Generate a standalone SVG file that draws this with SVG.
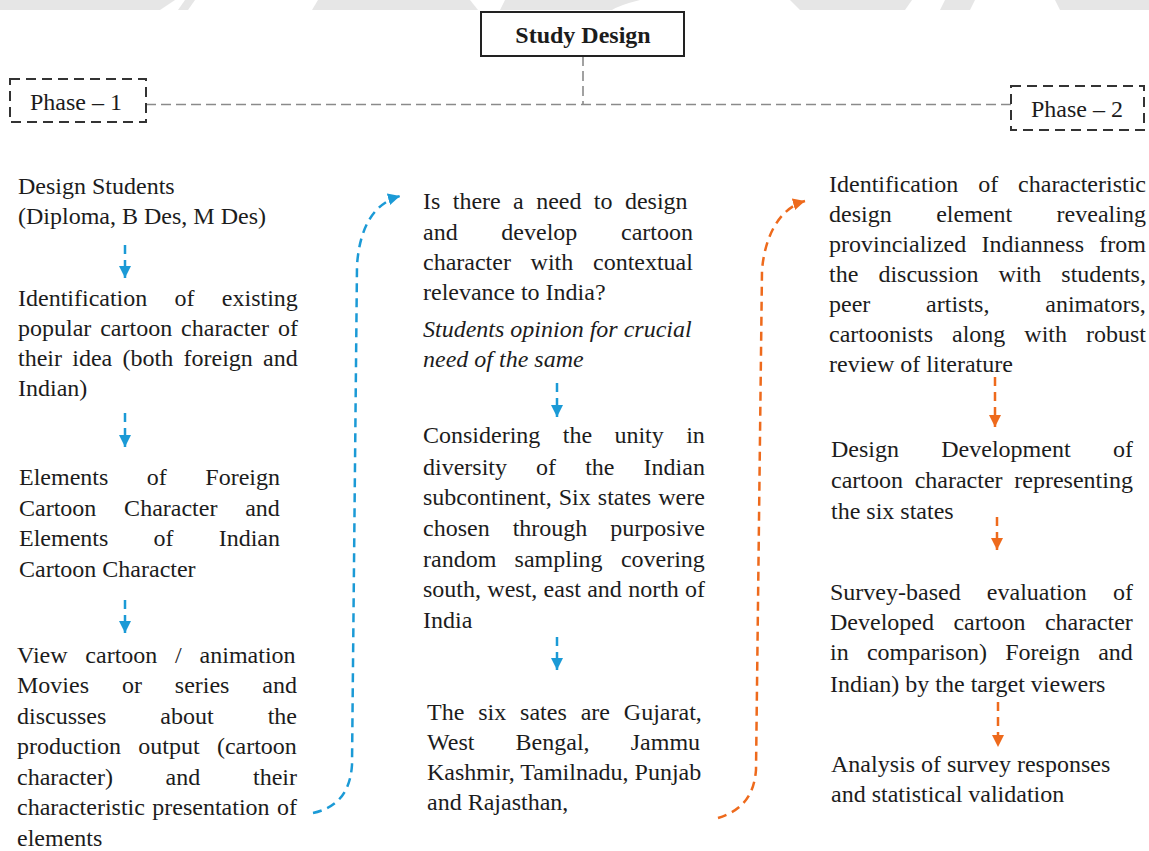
<svg xmlns="http://www.w3.org/2000/svg" width="1149" height="851" viewBox="0 0 1149 851">
<style>
.t{font-family:"Liberation Serif","Times New Roman",serif;font-size:24px;fill:#1c1c1c}
.it{font-style:italic}
.b{font-weight:bold}
.gl{stroke:#8a8a8a;stroke-width:1.6;stroke-dasharray:10 5;fill:none}
.pb{fill:#fff;stroke:#333;stroke-width:2;stroke-dasharray:10 6}
.bl{stroke:#1b9ad6;stroke-width:2.5;stroke-dasharray:9 6;fill:none}
.or{stroke:#ee6a1c;stroke-width:2.5;stroke-dasharray:9 6;fill:none}
.wm{fill:#e6e6e6}
</style>
<defs>
<marker id="ab" markerUnits="userSpaceOnUse" markerWidth="12" markerHeight="12" viewBox="0 0 10 10" refX="10" refY="5" orient="auto"><path d="M0,0 L10,5 L0,10 Z" fill="#1b9ad6"/></marker>
<marker id="ao" markerUnits="userSpaceOnUse" markerWidth="12" markerHeight="12" viewBox="0 0 10 10" refX="10" refY="5" orient="auto"><path d="M0,0 L10,5 L0,10 Z" fill="#ee6a1c"/></marker>
</defs>
<rect width="1149" height="851" fill="#fff"/>
<g id="watermark">
<path class="wm" d="M0,0 H175 L160,10 H0 Z"/>
<path class="wm" d="M185,0 H195 L188,10 H178 Z"/>
<path class="wm" d="M318,0 H470 L478,10 H312 Z"/>
<path class="wm" d="M505,0 H640 Q620,5 612,10 H500 Z"/>
<path class="wm" d="M790,0 H912 L905,10 H800 Z"/>
<path class="wm" d="M945,0 H975 L970,10 H940 Z"/>
<path class="wm" d="M1055,0 H1149 V10 H1060 Z"/>
</g>
<g id="connectors">
<path class="gl" d="M583,56 V104.5"/>
<path class="gl" d="M146,104.5 H1011"/>
<line class="bl" x1="125" y1="245" x2="125" y2="278" marker-end="url(#ab)"/>
<line class="bl" x1="125" y1="413" x2="125" y2="447" marker-end="url(#ab)"/>
<line class="bl" x1="125" y1="600" x2="125" y2="633" marker-end="url(#ab)"/>
<line class="bl" x1="557" y1="383" x2="557" y2="417" marker-end="url(#ab)"/>
<line class="bl" x1="557" y1="637" x2="557" y2="670" marker-end="url(#ab)"/>
<line class="or" x1="995" y1="377" x2="995" y2="427" marker-end="url(#ao)"/>
<line class="or" x1="997" y1="517" x2="997" y2="550" marker-end="url(#ao)"/>
<line class="or" x1="998" y1="702" x2="998" y2="747" marker-end="url(#ao)"/>
<path class="bl" d="M313,813 C335,808 350,795 352,765 L357,265 C360,225 375,203 400,196" marker-end="url(#ab)"/>
<path class="or" d="M718,818 C743,810 754,795 756,770 L762,270 C765,235 780,208 805,201" marker-end="url(#ao)"/>
</g>
<g id="study-design">
<rect x="481" y="12" width="203" height="44" fill="#fff" stroke="#222" stroke-width="2"/>
<text class="t b" x="583" y="43" text-anchor="middle" font-size="23">Study Design</text>
</g>
<g id="phase-1">
<rect class="pb" x="10" y="79" width="136" height="43"/>
<text class="t" x="30" y="110">Phase – 1</text>
</g>
<g id="phase-2">
<rect class="pb" x="1011" y="86" width="133" height="44"/>
<text class="t" x="1031" y="117">Phase – 2</text>
</g>
<g id="design-students">
<text class="t" x="18" y="194">Design Students</text>
<text class="t" x="18" y="224">(Diploma, B Des, M Des)</text>
</g>
<g id="identification-existing">
<text class="t" x="18" y="306" word-spacing="21.3">Identification of existing</text>
<text class="t" x="18" y="336" word-spacing="2.9">popular cartoon character of</text>
<text class="t" x="18" y="366" word-spacing="4.3">their idea (both foreign and</text>
<text class="t" x="18" y="396">Indian)</text>
</g>
<g id="elements">
<text class="t" x="19" y="485" word-spacing="32.5">Elements of Foreign</text>
<text class="t" x="19" y="516" word-spacing="21.8">Cartoon Character and</text>
<text class="t" x="19" y="546" word-spacing="39.2">Elements of Indian</text>
<text class="t" x="19" y="577">Cartoon Character</text>
</g>
<g id="view-cartoon">
<text class="t" x="17" y="663" word-spacing="11.8">View cartoon / animation</text>
<text class="t" x="17" y="693" word-spacing="26.9">Movies or series and</text>
<text class="t" x="17" y="724" word-spacing="48">discusses about the</text>
<text class="t" x="17" y="754" word-spacing="11.3">production output (cartoon</text>
<text class="t" x="17" y="785" word-spacing="46.7">character) and their</text>
<text class="t" x="17" y="815" word-spacing="1.4">characteristic presentation of</text>
<text class="t" x="17" y="846">elements</text>
</g>
<g id="need-question">
<text class="t" x="423" y="209" word-spacing="6.4">Is there a need to design</text>
<text class="t" x="423" y="240" word-spacing="37.7">and develop cartoon</text>
<text class="t" x="423" y="270" word-spacing="13.7">character with contextual</text>
<text class="t" x="423" y="300">relevance to India?</text>
<text class="t it" x="423" y="337">Students opinion for crucial</text>
<text class="t it" x="423" y="367">need of the same</text>
</g>
<g id="unity-diversity">
<text class="t" x="423" y="443" word-spacing="16.4">Considering the unity in</text>
<text class="t" x="423" y="475" word-spacing="23.1">diversity of the Indian</text>
<text class="t" x="423" y="505" word-spacing="1.1">subcontinent, Six states were</text>
<text class="t" x="423" y="536" word-spacing="17">chosen through purposive</text>
<text class="t" x="423" y="567" word-spacing="12.3">random sampling covering</text>
<text class="t" x="423" y="597" word-spacing="0.3">south, west, east and north of</text>
<text class="t" x="423" y="628">India</text>
</g>
<g id="six-states">
<text class="t" x="427" y="720" word-spacing="7.9">The six sates are Gujarat,</text>
<text class="t" x="427" y="750" word-spacing="35.2">West Bengal, Jammu</text>
<text class="t" x="427" y="780">Kashmir, Tamilnadu, Punjab</text>
<text class="t" x="427" y="810">and Rajasthan,</text>
</g>
<g id="identification-elements">
<text class="t" x="829" y="192" word-spacing="13.9">Identification of characteristic</text>
<text class="t" x="829" y="222" word-spacing="38.5">design element revealing</text>
<text class="t" x="829" y="252" word-spacing="9.2">provincialized Indianness from</text>
<text class="t" x="829" y="282" word-spacing="14.1">the discussion with students,</text>
<text class="t" x="829" y="312" word-spacing="49.8">peer artists, animators,</text>
<text class="t" x="829" y="342" word-spacing="13">cartoonists along with robust</text>
<text class="t" x="829" y="372">review of literature</text>
</g>
<g id="design-development">
<text class="t" x="831" y="457" word-spacing="36.3">Design Development of</text>
<text class="t" x="831" y="488" word-spacing="5.7">cartoon character representing</text>
<text class="t" x="831" y="519">the six states</text>
</g>
<g id="survey-evaluation">
<text class="t" x="830" y="600" word-spacing="20.2">Survey-based evaluation of</text>
<text class="t" x="830" y="630" word-spacing="13.5">Developed cartoon character</text>
<text class="t" x="830" y="660" word-spacing="12.3">in comparison) Foreign and</text>
<text class="t" x="830" y="692">Indian) by the target viewers</text>
</g>
<g id="analysis">
<text class="t" x="831" y="772">Analysis of survey responses</text>
<text class="t" x="831" y="802">and statistical validation</text>
</g>
</svg>
